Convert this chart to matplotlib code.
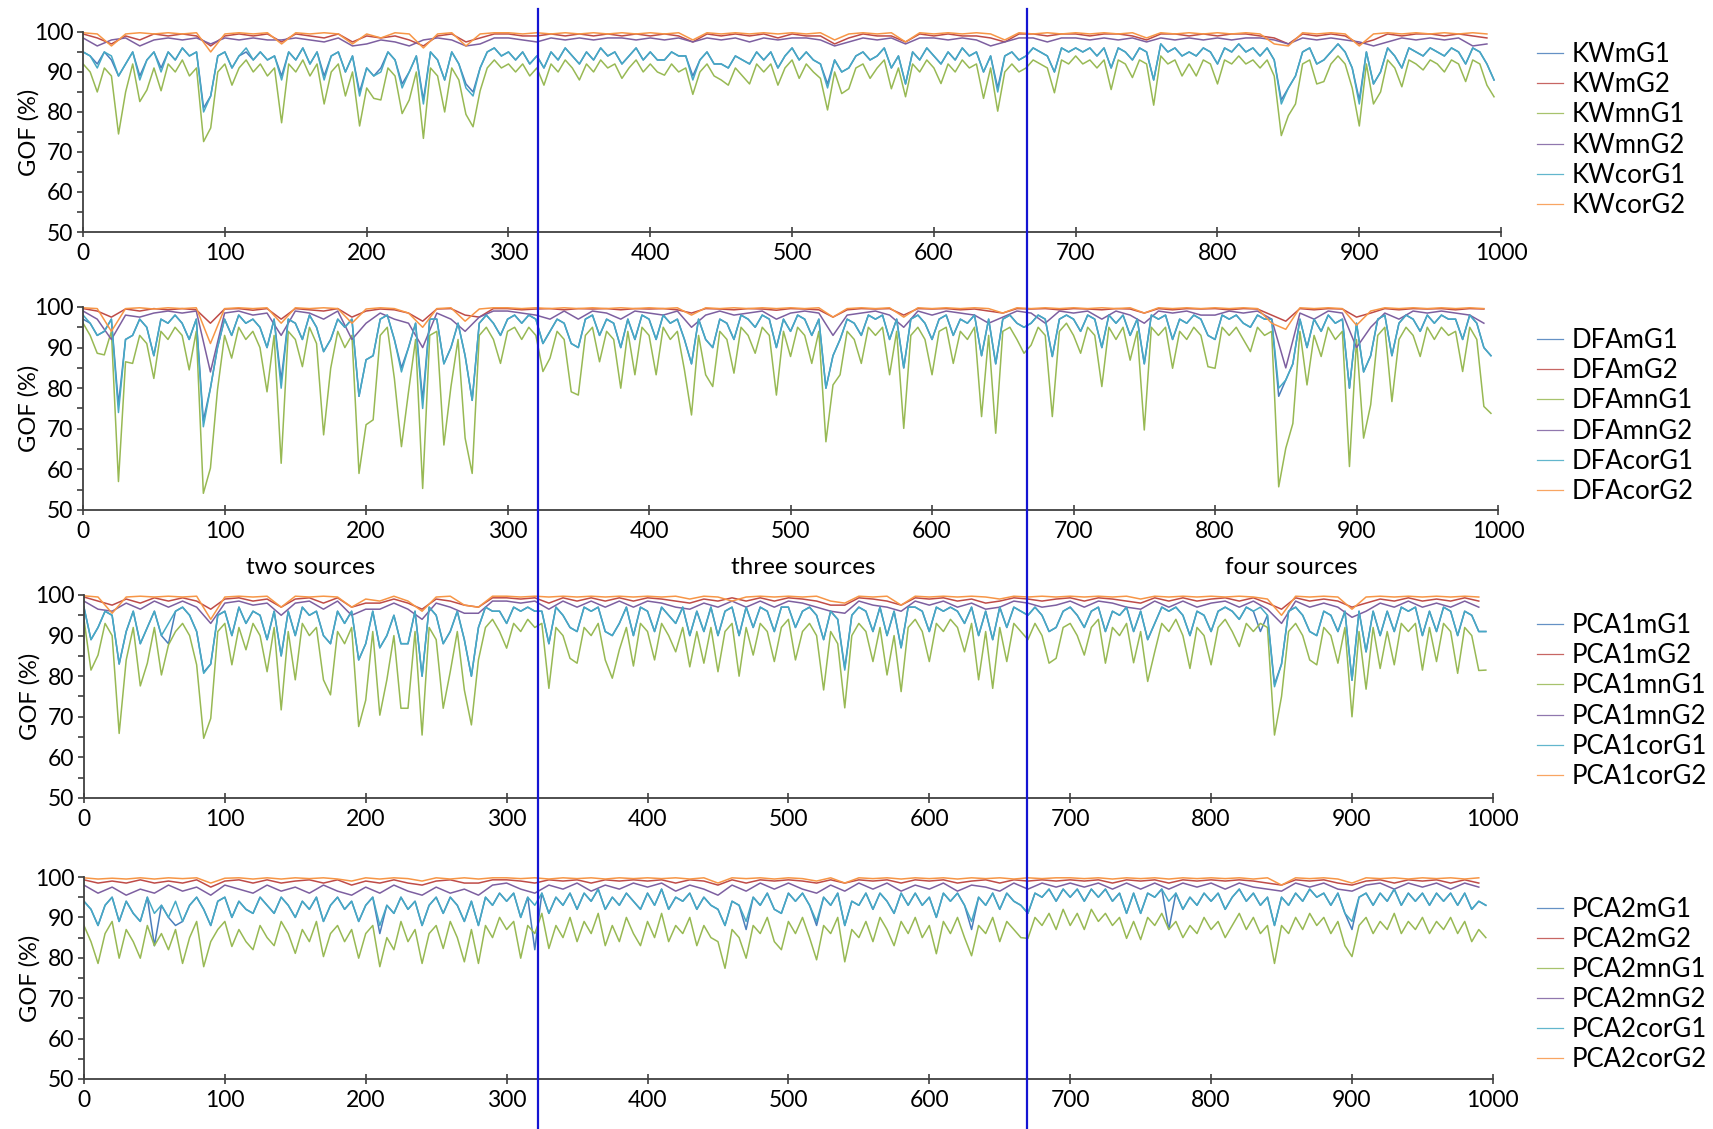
import numpy as np
import matplotlib
matplotlib.use("Agg")
import matplotlib.pyplot as plt
from matplotlib.lines import Line2D
from matplotlib.ticker import MultipleLocator
import matplotlib.transforms as mtransforms

plt.rcParams['font.family'] = ['Lato', 'DejaVu Sans']

# sample index positions
X5 = np.arange(0, 1000, 5)     # G1-type series (mG1, mnG1, corG1)
X10 = np.arange(0, 1000, 10)   # G2-type series

series_names = ["mG1", "mG2", "mnG1", "mnG2", "corG1", "corG2"]
methods = ["KW", "DFA", "PCA1", "PCA2"]
source_labels = ["two sources", "three sources", "four sources"]
boundaries = [320.5, 665.5]

# ---------------- KW ----------------
kw_mG1 = [95, 94, 92, 95, 93, 89, 92, 95, 89, 93,
          95, 91, 95, 93, 96, 94, 95, 81, 84, 94,
          95, 91, 94, 95, 93, 95, 93, 94, 89, 95,
          93, 96, 92, 95, 89, 94, 95, 90, 94, 85,
          91, 89, 91, 95, 93, 87, 90, 94, 83, 95,
          93, 88, 95, 92, 87, 85, 91, 95, 96, 94,
          95, 93, 95, 92, 94, 91, 95, 93, 96, 94,
          92, 95, 93, 96, 94, 95, 92, 94, 96, 93,
          95, 93, 93, 95, 94, 94, 89, 93, 95, 92,
          92, 91, 94, 93, 92, 95, 93, 95, 91, 94,
          96, 93, 95, 93, 92, 87, 93, 90, 91, 94,
          95, 93, 94, 96, 91, 94, 87, 95, 93, 96,
          94, 92, 95, 93, 96, 94, 95, 90, 94, 86,
          94, 95, 93, 94, 96, 95, 94, 90, 96, 95,
          96, 95, 96, 94, 96, 91, 96, 95, 93, 96,
          95, 88, 97, 95, 96, 94, 95, 94, 96, 95,
          92, 96, 95, 97, 95, 96, 94, 96, 93, 83,
          86, 89, 95, 96, 92, 93, 95, 97, 95, 91,
          83, 95, 87, 90, 96, 94, 91, 96, 95, 94,
          96, 95, 94, 96, 95, 92, 96, 95, 92, 88]
kw_mG2 = [99.5, 98.5, 97, 99, 98, 99.5, 99, 99.5, 99, 96.5,
          99, 99.5, 99, 99.5, 97.5, 99.5, 99, 98.5, 99.5, 97.5,
          99, 98.5, 99, 98, 96.5, 99, 99.5, 97.5, 98.5, 99.5,
          99.5, 99, 99, 99.5, 99, 99.5, 99, 99.5, 99, 99.5,
          99, 99.5, 99, 97.5, 99.5, 99, 99.5, 99, 99.5, 98.5,
          99.5, 99, 99, 97, 98.5, 99.5, 99, 99, 97.5, 99.5,
          99, 99.5, 99, 99, 98.5, 97.5, 99.5, 99.5, 99, 99.5,
          99.5, 99, 99.5, 99.5, 99, 98, 99.5, 99.5, 99, 99.5,
          99, 99.5, 99.5, 99, 98.5, 97, 99.5, 99, 99.5, 99,
          97, 98, 99.5, 99, 99.5, 99.5, 99, 99.5, 99, 98.5]
kw_mnG1 = [92, 90, 85, 91, 89, 74.5, 85, 92, 82.6, 85.5,
           91, 85.3, 92, 90, 93, 89, 91, 72.6, 76, 90,
           92, 86.7, 91, 93, 90, 92, 89, 91, 77.3, 92,
           90, 93, 89, 92, 82, 90, 92, 84, 90, 76.5,
           86, 83.4, 83, 91, 89, 79.6, 83, 90, 73.4, 91,
           89, 80, 91, 88, 79.4, 76.3, 85.3, 91, 93, 91,
           92, 90, 92, 89, 91, 86.7, 92, 90, 93, 91,
           88, 92, 90, 93, 91, 92, 88.4, 91, 93, 90,
           92, 90, 89.2, 92, 90, 91, 84.4, 90, 92, 89,
           88, 86.7, 91, 89, 87, 92, 90, 92, 86.7, 91,
           93, 88.4, 92, 90, 88.4, 80.5, 90, 84.6, 85.8, 91,
           92, 88.4, 91, 93, 85.8, 91, 83.8, 92, 90, 93,
           91, 87.1, 92, 90, 93, 91, 92, 83.4, 91, 80.2,
           90, 92, 90, 91, 93, 92, 91, 84.8, 93, 92,
           94, 92, 93, 91, 93, 85.6, 93, 92, 88.6, 93,
           92, 81.7, 94, 92, 93, 89, 92, 89, 93, 92,
           87, 93, 92, 94, 92, 93, 91, 93, 89, 74.1,
           79.1, 82, 92, 93, 87, 87.6, 92, 94, 92, 86,
           76.5, 92, 82, 85, 93, 91, 86.3, 93, 92, 90.5,
           93, 92, 90, 93, 92, 87.6, 93, 92, 86.7, 83.8]
kw_mnG2 = [98.5, 96.5, 98, 98.5, 96.5, 98, 98.5, 98, 98.5, 97,
           98.5, 98, 98.5, 98, 98, 98.5, 98, 97.5, 98.5, 96.5,
           97, 98, 97.5, 96.5, 98, 98.5, 98, 96.5, 97, 98.5,
           98.5, 98, 97.5, 98.5, 98, 98.5, 98, 98.5, 98.5, 98,
           98.5, 98, 98.5, 97.5, 98.5, 98, 98.5, 97.5, 98.5, 98,
           98.5, 98.5, 98, 96.5, 97.5, 98.5, 98, 98.5, 97, 98.5,
           98.5, 98, 98.5, 98, 96.5, 97.5, 98.5, 98.5, 97.5, 98.5,
           98.5, 98, 98.5, 98, 98.5, 97.5, 98.5, 98, 98.5, 98,
           98.5, 98, 98.5, 98.5, 98, 97, 98.5, 98, 98.5, 98,
           97.5, 96.5, 97.5, 98.5, 98, 98.5, 98, 98.5, 96.5, 97]
kw_corG1 = [95, 94, 91, 95, 94, 89, 92, 95, 88, 93,
            95, 90, 95, 93, 96, 94, 95, 80, 84, 94,
            95, 91, 94, 96, 93, 95, 93, 94, 88, 95,
            93, 96, 92, 95, 88, 94, 95, 90, 94, 84,
            91, 89, 90, 95, 93, 86, 90, 94, 82, 95,
            93, 88, 95, 92, 86, 84, 91, 95, 96, 94,
            95, 93, 95, 92, 94, 91, 95, 93, 96, 94,
            92, 95, 93, 96, 94, 95, 92, 94, 96, 93,
            95, 93, 93, 95, 94, 94, 88, 93, 95, 92,
            92, 91, 94, 93, 92, 95, 93, 95, 91, 94,
            96, 93, 95, 93, 92, 86, 93, 90, 91, 94,
            95, 93, 94, 96, 91, 94, 87, 95, 93, 96,
            94, 92, 95, 93, 96, 94, 95, 90, 94, 85,
            94, 95, 93, 94, 96, 95, 94, 90, 96, 95,
            96, 95, 96, 94, 96, 91, 96, 95, 93, 96,
            95, 88, 97, 95, 96, 94, 95, 94, 96, 95,
            92, 96, 95, 97, 95, 96, 94, 96, 93, 82,
            86, 89, 95, 96, 92, 93, 95, 97, 95, 91,
            82, 95, 87, 90, 96, 94, 91, 96, 95, 94,
            96, 95, 94, 96, 95, 92, 96, 95, 92, 88]
kw_corG2 = [99.8, 99.5, 96.5, 99.5, 99.8, 99.5, 99.8, 99.5, 99.8, 95,
            99.5, 99.8, 99.5, 99.8, 97, 99.8, 99.5, 99.8, 99.5, 97,
            99.5, 98.5, 99.8, 99.5, 96, 99.5, 99.8, 96.5, 99.5, 99.8,
            99.8, 99.5, 99.8, 99.5, 99.8, 99.5, 99.8, 99.5, 99.8, 99.5,
            99.8, 99.5, 99.8, 98, 99.8, 99.5, 99.8, 99.5, 99.8, 99.5,
            99.8, 99.5, 99.8, 98, 99.5, 99.8, 99.5, 99.8, 97.5, 99.8,
            99.5, 99.8, 99.5, 99.8, 99.5, 98, 99.8, 99.5, 99.8, 99.5,
            99.8, 99.5, 99.8, 99.5, 99.8, 98.5, 99.8, 99.5, 99.8, 99.5,
            99.8, 99.5, 99.8, 99.5, 97, 96.5, 99.8, 99.5, 99.8, 99.5,
            96.5, 99.5, 99.8, 99.5, 99.8, 99.5, 99.8, 99.5, 99.8, 99.5]

# ---------------- DFA ----------------
dfa_mG1 = [97, 96, 93, 94, 97, 76, 92, 93, 97, 95,
           88, 97, 96, 98, 96, 92, 97, 72, 80, 90,
           97, 93, 98, 96, 97, 95, 90, 97, 82, 97,
           96, 92, 98, 95, 89, 92, 97, 95, 97, 78,
           87, 88, 97, 98, 92, 85, 90, 96, 77, 97,
           97, 86, 90, 96, 88, 77, 96, 98, 96, 93,
           97, 98, 96, 98, 97, 91, 94, 97, 96, 91,
           90, 97, 98, 93, 97, 96, 90, 97, 92, 98,
           97, 92, 98, 96, 97, 92, 86, 97, 92, 90,
           97, 96, 92, 98, 97, 95, 98, 97, 90, 97,
           94, 98, 97, 93, 97, 80, 88, 92, 97, 96,
           93, 98, 97, 98, 92, 97, 85, 97, 98, 96,
           92, 97, 98, 93, 97, 96, 98, 88, 97, 86,
           97, 98, 96, 95, 96, 98, 97, 87.8, 97, 98,
           97, 94, 98, 97, 90, 98, 96, 98, 93, 97,
           86, 98, 97, 98, 92, 97, 96, 98, 97, 93,
           92, 98, 97, 98, 96, 95, 98, 97, 97, 78,
           82, 86, 97, 90, 97, 94, 98, 96, 97, 80,
           96, 84, 88, 97, 98, 88, 96, 98, 97, 94,
           98, 96, 98, 97, 97, 92, 98, 96, 90, 88]
dfa_mG2 = [99.6, 99, 97.5, 99.5, 99, 99.6, 99.3, 99.6, 99.3, 96,
           99.5, 99.6, 99.2, 99.6, 97, 99.6, 99.3, 99, 99.6, 97.5,
           99, 99.5, 99.3, 98.5, 96.5, 99.5, 99.6, 98, 97.5, 99.6,
           99.6, 99.3, 99.5, 99.6, 99.3, 99.6, 99.5, 99.6, 99.3, 99.6,
           99.5, 99.6, 99.3, 98.5, 99.6, 99.5, 99.3, 99.6, 99.5, 99.2,
           99.6, 99.5, 99.3, 97.5, 99.3, 99.6, 99.5, 99.6, 98, 99.6,
           99.5, 99.6, 99.3, 99.5, 99, 98.5, 99.6, 99.5, 99.6, 99.3,
           99.6, 99.5, 99.3, 99.6, 99.5, 98.5, 99.6, 99.3, 99.6, 99.5,
           99.6, 99.3, 99.6, 99.5, 98, 96.5, 99.6, 99.3, 99.6, 99.5,
           97.5, 98.5, 99.6, 99.3, 99.6, 99.5, 99.6, 99.3, 99.6, 99.5]
dfa_mnG1 = [96, 93, 88.6, 88.2, 94, 57, 86.5, 86.1, 93, 91,
            82.4, 94, 92, 95, 93, 84.5, 94, 54.1, 60.3, 79.6,
            93, 87.4, 95, 92, 94, 90, 79.1, 93, 61.5, 94,
            92, 85.3, 95, 91, 68.5, 84.9, 94, 90, 93, 59,
            71, 72.2, 93, 95, 82.4, 65.6, 79.1, 92, 55.3, 93,
            94, 66, 80.4, 92, 67.7, 59, 93, 95, 92, 86.1,
            94, 95, 92, 95, 93, 84.1, 87.4, 94, 92, 79.1,
            78.3, 93, 95, 86.5, 94, 92, 80, 94, 83.3, 95,
            93, 83.3, 95, 92, 94, 84.5, 73.4, 93, 83.3, 80.4,
            94, 92, 83.7, 95, 93, 88.6, 95, 93, 78.3, 94,
            87.8, 95, 93, 86.1, 94, 66.8, 80.8, 83.3, 94, 92,
            86.1, 95, 93, 95, 83.3, 94, 70.1, 93, 95, 92,
            83.3, 94, 95, 86.1, 94, 92, 95, 73, 93, 68.9,
            94, 95, 92, 88.6, 90.6, 95, 93, 73, 94, 96,
            93, 88.6, 95, 93, 80.4, 95, 92, 95, 86.9, 94,
            69.7, 95, 93, 95, 84.9, 94, 92, 95, 93, 85.3,
            84.9, 95, 93, 95, 92, 89, 95, 93, 94, 55.7,
            65.2, 71.3, 94, 80.8, 93, 87.8, 95, 92, 94, 60.7,
            92, 67.7, 75.9, 93, 95, 76.7, 92, 95, 93, 87.8,
            95, 92, 95, 93, 94, 84.1, 95, 92, 75.5, 73.8]
dfa_mnG2 = [99, 97, 92, 98, 97.5, 98.5, 99, 98.5, 99, 84,
            98.5, 99, 98, 98.5, 93, 99, 98.5, 97, 99, 92,
            96, 98.5, 97, 96, 90, 98.5, 97, 94, 97.5, 99,
            99, 98.5, 98, 97, 99, 97, 99, 98.5, 97, 99,
            98.5, 98, 99, 95, 98, 99, 98, 98.5, 99, 97,
            98.5, 99, 98.5, 93, 98, 98.5, 99, 98, 95, 99,
            98, 99, 98.5, 98, 96, 97.5, 99, 98.5, 96, 99,
            98.5, 99, 97, 99, 98, 96, 99, 98.5, 99, 98,
            98, 99, 98.5, 99, 97, 85, 98.5, 97, 99, 98.5,
            90, 95, 98.5, 97, 99, 98.5, 99, 98.5, 98, 96]
dfa_corG1 = [98, 96, 93, 94, 97, 74, 92, 93, 97, 95,
             88, 97, 96, 98, 96, 92, 97, 70.5, 80, 90,
             97, 93, 98, 96, 97, 95, 90, 97, 80, 97,
             96, 92, 98, 95, 89, 92, 97, 95, 97, 78,
             87, 88, 97, 98, 92, 84, 90, 96, 75, 97,
             97, 86, 90, 96, 88, 77, 96, 98, 96, 93,
             97, 98, 96, 98, 97, 91, 94, 97, 96, 91,
             90, 97, 98, 93, 97, 96, 90, 97, 92, 98,
             97, 92, 98, 96, 97, 92, 86, 97, 92, 90,
             97, 96, 92, 98, 97, 95, 98, 97, 90, 97,
             94, 98, 97, 93, 97, 80, 88, 92, 97, 96,
             93, 98, 97, 98, 92, 97, 85, 97, 98, 96,
             92, 97, 98, 93, 97, 96, 98, 88, 97, 86,
             97, 98, 96, 95, 96, 98, 97, 87.8, 97, 98,
             97, 94, 98, 97, 90, 98, 96, 98, 93, 97,
             86, 98, 97, 98, 92, 97, 96, 98, 97, 93,
             92, 98, 97, 98, 96, 95, 98, 97, 97, 80,
             82, 86, 97, 90, 97, 94, 98, 96, 97, 80,
             96, 84, 88, 97, 98, 88, 96, 98, 97, 94,
             98, 96, 98, 97, 97, 92, 98, 96, 90, 88]
dfa_corG2 = [99.8, 99.6, 94, 99.6, 99.8, 99.5, 99.8, 99.6, 99.8, 91,
             99.6, 99.8, 99.6, 99.8, 96, 99.8, 99.6, 99.8, 99.6, 96,
             99.5, 99.8, 99.6, 98.5, 95, 99.6, 99.8, 96.5, 99.5, 99.8,
             99.8, 99.6, 99.8, 99.6, 99.8, 99.6, 99.8, 99.6, 99.8, 99.6,
             99.8, 99.6, 99.8, 98, 99.8, 99.6, 99.8, 99.6, 99.8, 99.6,
             99.8, 99.6, 99.8, 97.5, 99.6, 99.8, 99.6, 99.8, 97.5, 99.8,
             99.6, 99.8, 99.6, 99.8, 99.6, 98.5, 99.8, 99.6, 99.8, 99.6,
             99.8, 99.6, 99.8, 99.6, 99.8, 98.5, 99.8, 99.6, 99.8, 99.6,
             99.8, 99.6, 99.8, 99.6, 96, 94.5, 99.8, 99.6, 99.8, 99.6,
             95.5, 99, 99.8, 99.6, 99.8, 99.6, 99.8, 99.6, 99.8, 99.6]

# ---------------- PCA1 ----------------
pca1_mG1 = [97, 89, 92, 96, 95, 83, 91, 96, 88, 92,
            96, 90, 88, 96, 97, 95, 91, 81, 83, 95,
            96, 90, 97, 93, 96, 95, 89, 96, 85, 96,
            90, 97, 95, 96, 90, 88, 96, 93, 96, 84,
            88, 96, 87, 90, 95, 88, 88, 96, 80, 97,
            95, 88, 91, 96, 89, 80, 92, 97, 96, 96,
            93, 97, 96, 97, 96, 96, 88, 97, 95, 92,
            91, 97, 96, 97, 91, 90, 93, 97, 90, 97,
            96, 91, 97, 95, 93, 97, 90, 96, 91, 97,
            90, 96, 97, 90, 97, 92, 97, 96, 91, 97,
            97, 92, 96, 97, 95, 89, 96, 94, 82, 95,
            97, 96, 91, 97, 90, 96, 87, 97, 97, 96,
            91, 97, 96, 97, 96, 93, 97, 90, 96, 89,
            97, 92, 97, 96, 95, 97, 95, 91, 92, 96,
            97, 95, 92, 96, 97, 91, 96, 95, 97, 91,
            96, 89, 93, 97, 96, 97, 95, 90, 96, 95,
            91, 96, 97, 96, 94, 97, 96, 91, 95, 78,
            83, 96, 97, 95, 91, 90, 96, 95, 91, 96,
            79, 96, 86, 96, 90, 96, 91, 97, 96, 97,
            90, 96, 91, 97, 96, 90, 96, 95, 91, 91]
pca1_mG2 = [99.5, 98.5, 97.5, 99, 98, 99.3, 98.5, 99.3, 98.5, 96.5,
            99, 99.3, 98.5, 99, 97, 99, 99.3, 98, 99.3, 97,
            98, 98, 99, 98, 96.5, 99, 98.5, 97.5, 97, 99.3,
            99.3, 99, 99.3, 98, 99.3, 98.5, 99.3, 98.5, 99.3, 98.5,
            99.3, 99, 98.5, 98, 99, 98.5, 99.3, 98.5, 99.3, 98.5,
            99.3, 99, 98.5, 97.5, 97.5, 99.3, 99, 98.5, 97.5, 99.3,
            99, 99.3, 98.5, 99, 98, 98.5, 99.3, 99, 98.5, 99,
            99.3, 98.5, 99.3, 99, 98.5, 98, 99.3, 98.5, 99.3, 98.5,
            99, 99.3, 98.5, 99.3, 98, 96.5, 99.3, 98.5, 99, 98.5,
            97, 98, 99, 98.5, 99.3, 98.5, 99, 98.5, 99.3, 98.5]
pca1_mnG1 = [94, 81.5, 85.2, 93, 90, 65.9, 84, 92, 77.6, 83.2,
             92, 80.3, 87.7, 91, 93, 90, 82.8, 64.7, 69.6, 91,
             93, 82.8, 92, 86.5, 93, 90, 81.1, 92, 71.7, 91,
             79.1, 93, 90, 92, 79.1, 75.4, 91, 88, 92, 67.6,
             74.1, 91, 70.4, 79.1, 90, 72.1, 72.1, 91, 65.5, 92,
             89, 72.1, 81.1, 91, 76.6, 68, 84, 92, 94, 91,
             86.9, 93, 91, 94, 92, 93, 77, 92, 90, 84.4,
             83.2, 92, 90, 93, 84, 79.5, 86.5, 92, 82.5, 93,
             91, 84, 93, 90, 86, 92, 82.3, 91, 83.2, 92,
             81.1, 91, 93, 80, 92, 85.2, 93, 91, 83.6, 92,
             94, 84, 91, 93, 90, 76.6, 91, 88, 72.2, 90,
             93, 91, 83.6, 92, 80.3, 90, 76.2, 92, 94, 91,
             83.6, 93, 91, 94, 92, 86, 93, 79.1, 91, 77,
             92, 83.6, 93, 91, 89, 93, 90, 83.2, 84.4, 92,
             93, 90, 85.2, 92, 94, 83.2, 92, 90, 93, 83.3,
             91, 78.7, 86, 93, 91, 94, 90, 81.9, 92, 90,
             82.8, 92, 94, 91, 87.3, 93, 91, 93, 92, 65.5,
             75, 91, 93, 90, 84, 82.8, 92, 90, 83.2, 92,
             70, 91, 76.8, 92, 81.9, 91, 82.8, 93, 91, 93,
             81.5, 92, 83.6, 93, 91, 80.7, 92, 90, 81.4, 81.5]
pca1_mnG2 = [98.5, 96.5, 96, 98, 96.5, 98.5, 97, 98.5, 97, 93,
             98, 98.5, 97.5, 98, 95, 98, 98.5, 96.5, 98.5, 95,
             96.5, 96.5, 98, 96.5, 94, 98, 97, 95.5, 95.5, 98.5,
             98.5, 98, 98.5, 96.5, 98.5, 97, 98.5, 97, 98.5, 97,
             98.5, 98, 97, 96.5, 98, 97, 98.5, 97, 98.5, 97,
             98.5, 98, 97, 96, 95.5, 98.5, 97.5, 97, 96, 98.5,
             97.5, 98.5, 97, 98, 96.5, 97, 98.5, 98, 97, 97.5,
             98.5, 97, 98.5, 98, 97, 96.5, 98.5, 97, 98.5, 97,
             98, 98.5, 97, 98.5, 96.5, 93, 98.5, 97, 98, 97,
             94.5, 96, 98, 97, 98.5, 97, 98, 97, 98.5, 97]
pca1_corG1 = [97, 89, 92, 96, 95, 83, 91, 96, 88, 92,
              96, 90, 93, 96, 97, 95, 91, 80.7, 83, 95,
              96, 90, 97, 93, 96, 95, 89, 96, 85, 96,
              90, 97, 95, 96, 90, 88, 96, 93, 96, 84,
              88, 96, 87, 90, 95, 88, 88, 96, 80, 97,
              95, 88, 91, 96, 89, 80, 92, 97, 96, 96,
              93, 97, 96, 97, 96, 96, 88, 97, 95, 92,
              91, 97, 96, 97, 91, 90, 93, 97, 90, 97,
              96, 91, 97, 95, 93, 97, 90, 96, 91, 97,
              90, 96, 97, 90, 97, 92, 97, 96, 91, 97,
              97, 92, 96, 97, 95, 89, 96, 94, 81.5, 95,
              97, 96, 91, 97, 90, 96, 87, 97, 97, 96,
              91, 97, 96, 97, 96, 93, 97, 90, 96, 89,
              97, 92, 97, 96, 95, 97, 95, 91, 92, 96,
              97, 95, 92, 96, 97, 91, 96, 95, 97, 91,
              96, 89, 93, 97, 96, 97, 95, 90, 96, 95,
              91, 96, 97, 96, 94, 97, 96, 97, 95, 77.4,
              83, 96, 97, 95, 91, 90, 96, 95, 91, 96,
              79, 96, 86, 96, 90, 96, 91, 97, 96, 97,
              90, 96, 91, 97, 96, 90, 96, 95, 91, 91]
pca1_corG2 = [99.8, 99.5, 95.5, 99.5, 99.7, 99.5, 99.7, 99.5, 99.7, 94,
              99.5, 99.7, 99.5, 99.7, 97, 99.7, 99.5, 99.7, 99.5, 97,
              99, 98.5, 99.7, 98.5, 96, 99.5, 99.7, 97.5, 97, 99.7,
              99.7, 99.5, 99.7, 99.5, 99.7, 99.5, 99.7, 99.5, 99.7, 99.5,
              99.7, 99.5, 99.7, 99, 99.7, 99.5, 98.5, 99.5, 99.7, 99.5,
              99.7, 99.5, 99.7, 98.5, 98, 99.7, 99.5, 99.7, 97.5, 99.7,
              99.5, 99.7, 99.5, 99.7, 99.5, 99, 99.7, 99.5, 99.7, 99.5,
              99.7, 99.5, 99.7, 99.5, 99.7, 99, 99.7, 99.5, 99.7, 99.5,
              99.7, 99.5, 99.7, 99.5, 99, 95, 99.7, 99.5, 99.7, 99.5,
              96.5, 99.5, 99.7, 99.5, 99.7, 99.5, 99.7, 99.5, 99.7, 99.5]

# ---------------- PCA2 ----------------
pca2_mG1 = [94, 92, 88, 93, 95, 89, 94, 91, 89, 95,
            83, 93, 90, 88, 89, 93, 95, 92, 88, 94,
            95, 90, 94, 92, 91, 95, 93, 91, 95, 93,
            90, 94, 92, 95, 89, 93, 95, 92, 94, 89,
            93, 95, 86, 93, 91, 95, 92, 94, 88, 93,
            95, 91, 95, 93, 89, 94, 88, 95, 93, 96,
            94, 96, 90, 95, 82, 96, 91, 95, 93, 96,
            92, 96, 94, 97, 92, 95, 93, 96, 94, 92,
            96, 93, 97, 92, 95, 94, 96, 92, 95, 93,
            92, 88, 94, 93, 87, 95, 93, 96, 92, 91,
            96, 94, 96, 93, 88, 95, 93, 96, 88, 94,
            93, 96, 92, 96, 94, 91, 96, 93, 96, 93,
            95, 90, 96, 94, 96, 93, 87, 95, 93, 96,
            92, 96, 94, 93, 91, 96, 95, 97, 94, 97,
            95, 97, 94, 97, 95, 97, 94, 96, 91, 96,
            91, 96, 95, 97, 87, 96, 92, 95, 93, 96,
            94, 96, 92, 95, 97, 94, 96, 93, 95, 88,
            95, 93, 96, 94, 97, 95, 96, 93, 96, 91,
            87, 95, 96, 93, 96, 94, 97, 93, 96, 94,
            96, 93, 96, 94, 96, 93, 96, 92, 94, 93]
pca2_mG2 = [99.3, 98.5, 99, 98.5, 99.3, 98.5, 99, 98.5, 99.3, 97.5,
            99, 99.3, 98.5, 99.3, 98.5, 99, 99.3, 98.5, 99.3, 98,
            99, 98.5, 99.3, 98.5, 98, 99, 99.3, 98.5, 98.5, 99.3,
            99.3, 99, 98.5, 99.3, 99, 99.3, 98.5, 99.3, 99, 99.3,
            99, 99.3, 98.5, 99.3, 99, 98, 99.3, 98.5, 99.3, 99,
            99.3, 99, 98.5, 99.3, 98.5, 99.3, 99, 99.3, 98.5, 99.3,
            99, 99.3, 98.5, 99, 99.3, 98.5, 99.3, 99, 99.3, 99,
            99.3, 99, 99.3, 98.5, 99.3, 99, 99.3, 98.5, 99.3, 99,
            99.3, 99, 99.3, 99, 98.5, 98, 99.3, 99, 99.3, 98.5,
            98, 99, 99.3, 98.5, 99.3, 99, 99.3, 98.5, 99.3, 98.5]
pca2_mnG1 = [88, 84, 78.6, 86, 89, 79.9, 87, 84, 79.9, 88,
             83, 86, 82, 87, 78.6, 85, 89, 77.8, 84, 87,
             89, 82.8, 87, 84, 82, 88, 85, 83, 89, 86,
             81.1, 87, 84, 89, 80.3, 86, 88, 84, 87, 79.9,
             86, 88, 77.8, 85, 82, 89, 84, 87, 78.6, 86,
             88, 82.3, 89, 85, 79, 87, 78.6, 88, 85, 90,
             87, 89, 79.9, 88, 86, 91, 82.3, 88, 85, 90,
             84, 89, 86, 91, 83, 88, 84, 90, 86, 83,
             89, 85, 91, 84, 88, 86, 90, 83, 88, 85,
             84, 77.4, 87, 85, 79.9, 88, 86, 90, 84, 82,
             89, 86, 90, 85, 79.5, 88, 86, 90, 79, 87,
             85, 89, 84, 90, 87, 83, 89, 86, 90, 85,
             88, 81, 89, 86, 90, 85, 80.5, 88, 86, 90,
             84, 89, 87, 85, 84.8, 90, 88, 91, 87, 92,
             88, 91, 87, 92, 89, 91, 88, 90, 84.8, 89,
             84.5, 90, 88, 91, 87, 89, 85, 88, 86, 90,
             87, 89, 85, 88, 91, 87, 90, 86, 88, 78.6,
             88, 86, 90, 87, 91, 88, 90, 86, 89, 83,
             80.3, 88, 90, 86, 89, 87, 91, 86, 89, 87,
             90, 86, 89, 87, 90, 86, 89, 84, 87, 85]
pca2_mnG2 = [98, 96, 97.5, 95.5, 97, 96, 98, 96.5, 97.5, 95.5,
             98, 97, 96, 98, 96.5, 97.5, 96, 98, 96.5, 95.5,
             97.5, 96, 98, 96.5, 95.5, 97.5, 96, 97, 95.5, 98,
             98.5, 97, 96, 98, 97, 98.5, 96.5, 98, 97, 98.5,
             97.5, 98.5, 96.5, 98, 97, 95.5, 98, 96.5, 98.5, 97,
             98.5, 97, 96, 98, 96.5, 98.5, 97, 98.5, 96.5, 98,
             97, 98.5, 96.5, 98, 97.5, 96.5, 98.5, 97, 98.5, 97.5,
             98.5, 97.5, 98.5, 97, 98.5, 97, 98.5, 97, 98.5, 97.5,
             98.5, 97, 98.5, 97.5, 97, 96.5, 98.5, 97.5, 98.5, 97,
             96.5, 98, 98.5, 97, 98.5, 97.5, 98.5, 97, 98.5, 97.5]
pca2_corG1 = [94, 92, 88, 93, 95, 89, 94, 91, 89, 95,
              91, 93, 90, 94, 89, 93, 95, 92, 88, 94,
              95, 90, 94, 92, 91, 95, 93, 91, 95, 93,
              90, 94, 92, 95, 89, 93, 95, 92, 94, 89,
              93, 95, 88, 93, 91, 95, 92, 94, 88, 93,
              95, 91, 95, 93, 89, 94, 88, 95, 93, 96,
              94, 96, 90, 95, 93, 96, 91, 95, 93, 96,
              92, 96, 94, 97, 92, 95, 93, 96, 94, 92,
              96, 93, 97, 92, 95, 94, 96, 92, 95, 93,
              92, 88, 94, 93, 89, 95, 93, 96, 92, 91,
              96, 94, 96, 93, 89, 95, 93, 96, 88, 94,
              93, 96, 92, 96, 94, 91, 96, 93, 96, 93,
              95, 90, 96, 94, 96, 93, 89, 95, 93, 96,
              92, 96, 94, 93, 91, 96, 95, 97, 94, 97,
              95, 97, 94, 97, 95, 97, 94, 96, 91, 96,
              91, 96, 95, 97, 94, 96, 92, 95, 93, 96,
              94, 96, 92, 95, 97, 94, 96, 93, 95, 88,
              95, 93, 96, 94, 97, 95, 96, 93, 96, 91,
              89, 95, 96, 93, 96, 94, 97, 93, 96, 94,
              96, 93, 96, 94, 96, 93, 96, 92, 94, 93]
pca2_corG2 = [99.8, 99.5, 99.7, 99.5, 99.8, 99.5, 99.8, 99.6, 99.8, 98.5,
              99.7, 99.8, 99.5, 99.8, 99.5, 99.8, 99.6, 99.8, 99.5, 99,
              99.8, 99.5, 99.8, 99.6, 99, 99.8, 99.5, 99.8, 99.5, 99.8,
              99.8, 99.6, 99.8, 99.5, 99.8, 99.6, 99.8, 99.5, 99.8, 99.6,
              99.8, 99.6, 99.8, 99.5, 99.8, 98.5, 99.8, 99.6, 99.8, 99.5,
              99.8, 99.6, 99, 99.8, 98.5, 99.8, 99.6, 99.8, 99.5, 99.8,
              99.6, 99.8, 99.5, 99.8, 99.6, 99.8, 99.5, 99.8, 99.6, 99.8,
              99.8, 99.6, 99.8, 99.5, 99.8, 99.6, 99.8, 99.5, 99.8, 99.6,
              99.8, 99.6, 99.8, 99.5, 99.8, 98, 99.8, 99.6, 99.8, 99.5,
              98.5, 99.8, 99.6, 99.8, 99.5, 99.8, 99.6, 99.8, 99.5, 99.8]

panel_data = [
    [kw_mG1, kw_mG2, kw_mnG1, kw_mnG2, kw_corG1, kw_corG2],
    [dfa_mG1, dfa_mG2, dfa_mnG1, dfa_mnG2, dfa_corG1, dfa_corG2],
    [pca1_mG1, pca1_mG2, pca1_mnG1, pca1_mnG2, pca1_corG1, pca1_corG2],
    [pca2_mG1, pca2_mG2, pca2_mnG1, pca2_mnG2, pca2_corG1, pca2_corG2],
]

colors = ['#4a7ebb', '#be4b48', '#98b954', '#7d5fa0', '#46aac5', '#f79646']

# axes rectangles (figure fractions)
rects = [
    [0.0485, 0.7945, 0.8278, 0.1772],
    [0.0485, 0.5483, 0.8260, 0.1798],
    [0.0490, 0.2932, 0.8225, 0.1798],
    [0.0490, 0.0443, 0.8225, 0.1789],
]
legend_y = [0.8849, 0.6315, 0.3791, 0.1280]

fig = plt.figure(figsize=(17.13, 11.29), dpi=100)
axes = []
for i, (method, data) in enumerate(zip(methods, panel_data)):
    ax = fig.add_axes(rects[i])
    axes.append(ax)
    for name, vals, col in zip(series_names, data, colors):
        xs = X5 if len(vals) == len(X5) else X10
        ax.plot(xs, vals, color=col, lw=1.1, label=method + name)
    ax.set_xlim(0, 1000)
    ax.set_ylim(50, 100)
    ax.set_xticks(np.arange(0, 1001, 100))
    ax.set_yticks(np.arange(50, 101, 10))
    ax.yaxis.set_minor_locator(MultipleLocator(5))
    for s in ['top', 'right']:
        ax.spines[s].set_visible(False)
    for s in ['left', 'bottom']:
        ax.spines[s].set_color('#404040')
        ax.spines[s].set_linewidth(1.3)
    ax.tick_params(axis='x', direction='inout', length=7, width=1.2,
                   color='#404040', labelsize=16.5, pad=4.5)
    ax.tick_params(axis='y', which='major', direction='out', length=4,
                   width=1.2, color='#404040', labelsize=16.5, pad=3)
    ax.tick_params(axis='y', which='minor', direction='out', length=4,
                   width=1.2, color='#404040')
    ax.set_ylabel('GOF (%)', fontsize=17)
    ax.yaxis.set_label_coords(-0.031, 0.5)
    handles, labels = ax.get_legend_handles_labels()
    leg = fig.legend(handles, labels, loc='center left',
                     bbox_to_anchor=(0.8975, legend_y[i]), frameon=False,
                     fontsize=18.5, handlelength=1.0, handletextpad=0.35,
                     labelspacing=0.2, borderpad=0, borderaxespad=0)
    for ln in leg.get_lines():
        ln.set_linewidth(0.9)
        ln.set_alpha(0.85)

# group separators
trans = mtransforms.blended_transform_factory(axes[0].transData, fig.transFigure)
for b in boundaries:
    fig.add_artist(Line2D([b, b], [0.0, 0.992], transform=trans,
                          color='#1414d2', lw=1.6, zorder=10))

for lab, xf in zip(source_labels, [0.1816, 0.4688, 0.7537]):
    fig.text(xf, 0.4969, lab, ha='center', va='center', fontsize=17.5)

fig.savefig('out.png', dpi=100)
